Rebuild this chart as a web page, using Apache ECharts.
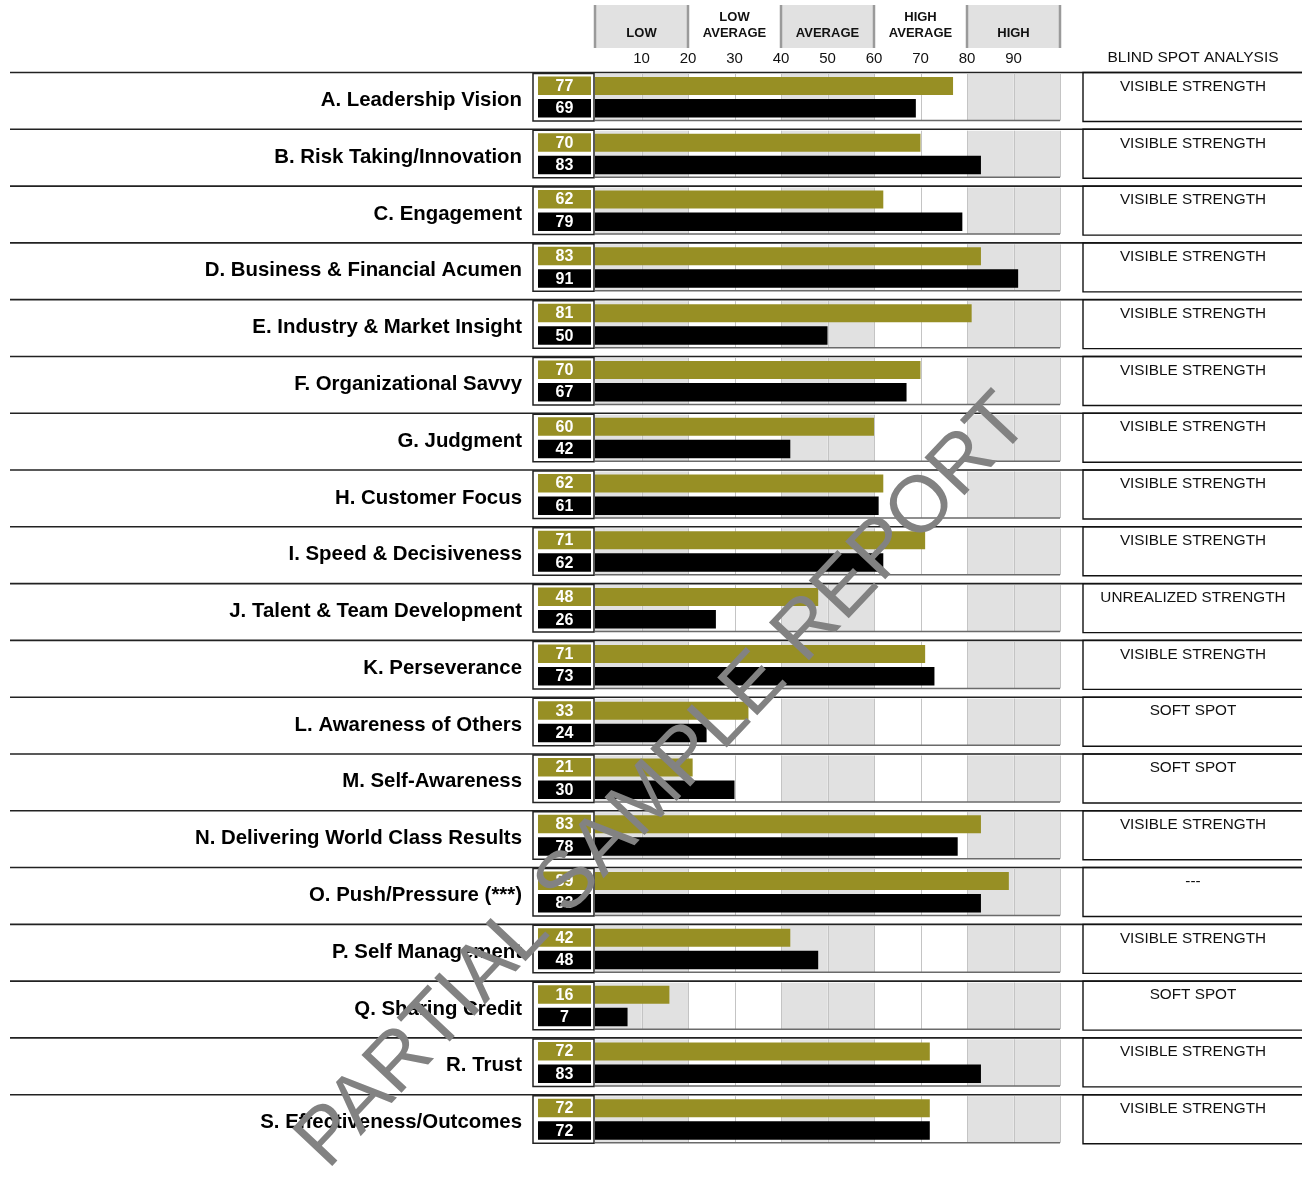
<!DOCTYPE html>
<html><head><meta charset="utf-8">
<script src="https://cdn.jsdelivr.net/npm/echarts@6/dist/echarts.min.js"></script>
<style>html,body{margin:0;padding:0;background:#fff}#chart{width:1302px;height:1180px}</style>
</head><body><div id="chart"></div>
<script>
const categories = [
  'A. Leadership Vision','B. Risk Taking/Innovation','C. Engagement','D. Business & Financial Acumen',
  'E. Industry & Market Insight','F. Organizational Savvy','G. Judgment','H. Customer Focus',
  'I. Speed & Decisiveness','J. Talent & Team Development','K. Perseverance','L. Awareness of Others',
  'M. Self-Awareness','N. Delivering World Class Results','O. Push/Pressure (***)','P. Self Management',
  'Q. Sharing Credit','R. Trust','S. Effectiveness/Outcomes'
];
const othersScores = [77,70,62,83,81,70,60,62,71,48,71,33,21,83,89,42,16,72,72];
const selfScores   = [69,83,79,91,50,67,42,61,62,26,73,24,30,78,83,48,7,83,72];
const blindSpot = [
  'VISIBLE STRENGTH','VISIBLE STRENGTH','VISIBLE STRENGTH','VISIBLE STRENGTH','VISIBLE STRENGTH',
  'VISIBLE STRENGTH','VISIBLE STRENGTH','VISIBLE STRENGTH','VISIBLE STRENGTH','UNREALIZED STRENGTH',
  'VISIBLE STRENGTH','SOFT SPOT','SOFT SPOT','VISIBLE STRENGTH','---','VISIBLE STRENGTH',
  'SOFT SPOT','VISIBLE STRENGTH','VISIBLE STRENGTH'
];
const bandLabels = ['LOW','LOW\nAVERAGE','AVERAGE','HIGH\nAVERAGE','HIGH'];
const bandStarts = [0,20,40,60,80];
const bandEnds   = [20,40,60,80,100];
const bandShaded = [true,false,true,false,true];
const tickLabels = ['10','20','30','40','50','60','70','80','90'];
const columnTitle = 'BLIND SPOT ANALYSIS';
const watermarkText = 'PARTIAL SAMPLE REPORT';

const FONT = "'Liberation Sans', Arial, Helvetica, sans-serif";
const OLIVE = '#978f24';
const CELL_GREY = '#e1e1e1';

const chart = echarts.init(document.getElementById('chart'), null, {renderer: 'canvas'});

function txt(text, x, y, font, fill, align, valign, lineHeight) {
  return {type: 'text', style: {text: text, x: x, y: y, font: font, fill: fill,
    align: align, textAlign: align, verticalAlign: valign, textVerticalAlign: valign,
    lineHeight: lineHeight}};
}

function renderRow(params, api) {
  const i = params.dataIndex;
  const c0 = api.coord([0, i]);
  const x0 = c0[0];
  const x100 = api.coord([100, i])[0];
  const h = api.size([0, 1])[1];
  const y0 = c0[1] - h / 2;
  const ch = [];
  for (let k = 0; k < 10; k++) {
    const xa = api.coord([k * 10, i])[0], xb = api.coord([k * 10 + 10, i])[0];
    const shaded = Math.floor(k / 2) % 2 === 0;
    ch.push({type: 'rect', shape: {x: xa, y: y0 + 2, width: xb - xa, height: 46.5},
      style: {fill: shaded ? CELL_GREY : '#ffffff'}});
  }
  for (let k = 1; k <= 10; k++) {
    const xa = Math.round(api.coord([k * 10, i])[0]) + 0.5;
    ch.push({type: 'line', shape: {x1: xa, y1: y0 + 2, x2: xa, y2: y0 + 48.5},
      style: {stroke: '#c4c4c4', lineWidth: 1}});
  }
  ch.push({type: 'line', shape: {x1: x0, y1: y0 + 48.5, x2: x100, y2: y0 + 48.5},
    style: {stroke: '#6a6a6a', lineWidth: 1.5}});
  const vO = api.value(0), vS = api.value(2);
  const xO = api.coord([vO, i])[0], xS = api.coord([vS, i])[0];
  ch.push({type: 'rect', shape: {x: x0, y: y0 + 5, width: xO - x0, height: 18}, style: {fill: OLIVE}});
  ch.push({type: 'rect', shape: {x: x0, y: y0 + 27, width: xS - x0, height: 18.5}, style: {fill: '#000'}});
  ch.push({type: 'line', shape: {x1: x0 - 585, y1: y0 + 0.5, x2: x0 + 720, y2: y0 + 0.5},
    style: {stroke: '#222', lineWidth: 1.6}});
  ch.push({type: 'rect', shape: {x: x0 - 62, y: y0 + 1.5, width: 61, height: 47.5},
    style: {fill: '#fff', stroke: '#222', lineWidth: 1.5}});
  ch.push({type: 'rect', shape: {x: x0 - 57, y: y0 + 4.5, width: 53, height: 18.5}, style: {fill: OLIVE}});
  ch.push({type: 'rect', shape: {x: x0 - 57, y: y0 + 27, width: 53, height: 18.5}, style: {fill: '#000'}});
  ch.push(txt(String(vO), x0 - 30.5, y0 + 14.5, 'bold 16px ' + FONT, '#fff', 'center', 'middle'));
  ch.push(txt(String(vS), x0 - 30.5, y0 + 37, 'bold 16px ' + FONT, '#fff', 'center', 'middle'));
  ch.push({type: 'rect', shape: {x: x100 + 23, y: y0 + 0.5, width: 260, height: 49},
    style: {fill: 'none', stroke: '#111', lineWidth: 1.4}});
  ch.push(txt(blindSpot[i], x100 + 133, y0 + 14.5, '15.3px ' + FONT, '#111', 'center', 'middle'));
  return {type: 'group', children: ch};
}

function renderHeader(params, api) {
  const i = params.dataIndex;
  const xa = api.coord([bandStarts[i], 0])[0];
  const xb = api.coord([bandEnds[i], 1])[0];
  const cs = params.coordSys;
  const ch = [];
  if (bandShaded[i]) {
    ch.push({type: 'rect', shape: {x: xa, y: cs.y, width: xb - xa, height: cs.height}, style: {fill: CELL_GREY}});
    ch.push({type: 'line', shape: {x1: xa, y1: cs.y, x2: xa, y2: cs.y + cs.height}, style: {stroke: '#9a9a9a', lineWidth: 2.5}});
    ch.push({type: 'line', shape: {x1: xb, y1: cs.y, x2: xb, y2: cs.y + cs.height}, style: {stroke: '#9a9a9a', lineWidth: 2.5}});
  }
  ch.push(txt(bandLabels[i], (xa + xb) / 2, cs.y + 36, 'bold 13px ' + FONT, '#111', 'center', 'bottom', 16));
  return {type: 'group', children: ch};
}

const rowData = categories.map((c, i) => [othersScores[i], i, selfScores[i]]);
const headerData = bandStarts.map((s, i) => [s, 0, bandEnds[i]]);

chart.setOption({
  animation: false,
  textStyle: {fontFamily: FONT},
  grid: [
    {left: 595, right: 242, top: 72, bottom: 29},
    {left: 595, right: 242, top: 5, height: 43}
  ],
  xAxis: [
    {type: 'value', gridIndex: 0, min: 0, max: 100, interval: 10, position: 'top',
      axisLine: {show: false}, axisTick: {show: false}, splitLine: {show: false},
      axisLabel: {margin: 6, fontSize: 15, color: '#111', fontFamily: FONT,
        formatter: v => tickLabels.indexOf(String(v)) >= 0 ? String(v) : ''}},
    {type: 'value', gridIndex: 1, min: 0, max: 100, show: false}
  ],
  yAxis: [
    {type: 'category', gridIndex: 0, data: categories, inverse: true,
      axisLine: {show: false}, axisTick: {show: false}, splitLine: {show: false},
      axisLabel: {margin: 73, fontSize: 20.4, fontWeight: 'bold', color: '#000', fontFamily: FONT,
        padding: [0, 0, 6, 0]}},
    {type: 'value', gridIndex: 1, min: 0, max: 1, show: false}
  ],
  series: [
    {type: 'custom', xAxisIndex: 0, yAxisIndex: 0, clip: false, renderItem: renderRow,
      data: rowData, encode: {x: 0, y: 1}, silent: true},
    {type: 'custom', xAxisIndex: 1, yAxisIndex: 1, clip: false, renderItem: renderHeader,
      data: headerData, encode: {x: 0, y: 1}, silent: true}
  ],
  graphic: [
    {type: 'text', x: 1193, y: 58, z: 50,
      style: {text: columnTitle, font: '15.5px ' + FONT, fill: '#111',
        align: 'center', textAlign: 'center', verticalAlign: 'middle', textVerticalAlign: 'middle'}},
    {type: 'text', z: 100, x: 664, y: 782, rotation: 0.815,
      style: {text: watermarkText, font: '80px ' + FONT, fill: '#828282',
        align: 'center', textAlign: 'center', verticalAlign: 'middle', textVerticalAlign: 'middle'}}
  ]
});
</script>
</body></html>
